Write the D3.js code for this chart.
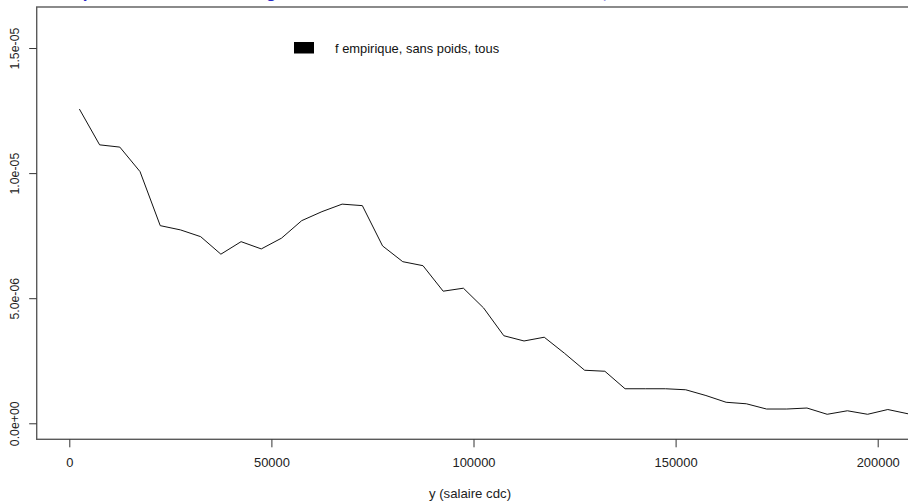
<!DOCTYPE html>
<html>
<head>
<meta charset="utf-8">
<script src="https://cdn.jsdelivr.net/npm/d3@7"></script>
<style>
  body { margin: 0; background: white; overflow: hidden; }
  svg { display: block; font-family: "Liberation Sans", Arial, sans-serif; }
</style>
</head>
<body>
<svg></svg>
<script>

var screen = {width: 908, height: 503};
var box = {left: 36.7, top: 7, right: 940, bottom: 439.3};

// salaire (centre des classes de 5000) et densite empirique
var salaire = [2500, 7500, 12500, 17500, 22500, 27500, 32500, 37500, 42500, 47500,
               52500, 57500, 62500, 67500, 72500, 77500, 82500, 87500, 92500, 97500,
               102500, 107500, 112500, 117500, 122500, 127500, 132500, 137500, 142500, 147500,
               152500, 157500, 162500, 167500, 172500, 177500, 182500, 187500, 192500, 197500,
               202500, 207500];
var densite = [1.256e-5, 1.113e-5, 1.104e-5, 1.006e-5, 7.90e-6, 7.73e-6, 7.46e-6, 6.76e-6, 7.26e-6, 6.97e-6,
               7.40e-6, 8.10e-6, 8.46e-6, 8.76e-6, 8.70e-6, 7.09e-6, 6.46e-6, 6.30e-6, 5.28e-6, 5.40e-6,
               4.61e-6, 3.50e-6, 3.29e-6, 3.44e-6, 2.80e-6, 2.12e-6, 2.08e-6, 1.38e-6, 1.38e-6, 1.38e-6,
               1.34e-6, 1.11e-6, 0.84e-6, 0.78e-6, 0.57e-6, 0.57e-6, 0.61e-6, 0.36e-6, 0.50e-6, 0.36e-6,
               0.55e-6, 0.38e-6];

var xTicks = [0, 50000, 100000, 150000, 200000];
var yTicks = [0, 5e-6, 1e-5, 1.5e-5];
var yTickLabels = ["0.0e+00", "5.0e-06", "1.0e-05", "1.5e-05"];
var legendLabels = ["f empirique, sans poids, tous"];

var setup = function()
{
    var svg = d3.select("body").select("svg")
    .attr("width", screen.width)
    .attr("height", screen.height);

    var xScale = d3.scaleLinear().domain([0, 200000]).range([69.3, 877.7]);
    var yScale = d3.scaleLinear().domain([-0.04 * 1.6e-5, 1.04 * 1.6e-5]).range([box.bottom, box.top]);

    // titre (presque entierement hors cadre)
    svg.append("text")
    .attr("x", 45)
    .attr("y", -2.5)
    .attr("fill", "#2727c8")
    .attr("font-size", "17px")
    .attr("font-weight", "bold")
    .text("Comparaison des densités globales et conditionnelles du salaire cdc, 2010");

    svg.append("clipPath").attr("id", "clip")
    .append("rect")
    .attr("x", box.left).attr("y", box.top)
    .attr("width", box.right - box.left).attr("height", box.bottom - box.top);

    drawAxes(svg, xScale, yScale);
    drawLine(svg, xScale, yScale);
    drawLegend(svg);
}

var drawAxes = function(svg, xScale, yScale)
{
    svg.append("rect")
    .attr("x", box.left).attr("y", box.top)
    .attr("width", box.right - box.left).attr("height", box.bottom - box.top)
    .attr("fill", "none")
    .attr("stroke", "#5a5a5a")
    .attr("stroke-width", 1.4);

    var xAxis = d3.axisBottom(xScale).tickValues(xTicks).tickSize(8).tickPadding(11)
        .tickFormat(d3.format("d"));
    var gx = svg.append("g")
    .attr("transform", "translate(0," + box.bottom + ")")
    .call(xAxis);
    gx.select(".domain").remove();
    gx.selectAll("line").attr("stroke", "#333");
    gx.selectAll("text").attr("font-size", "12.9px").attr("fill", "#222")
    .attr("font-family", "Liberation Sans, Arial, sans-serif");

    var yAxis = d3.axisLeft(yScale).tickValues(yTicks).tickSize(7.5)
        .tickFormat(function(d, i){ return yTickLabels[i]; });
    var gy = svg.append("g")
    .attr("transform", "translate(" + box.left + ",0)")
    .call(yAxis);
    gy.select(".domain").remove();
    gy.selectAll("line").attr("stroke", "#333");
    gy.selectAll("text")
    .attr("font-size", "12.3px").attr("fill", "#222")
    .attr("font-family", "Liberation Sans, Arial, sans-serif")
    .attr("x", null).attr("dy", null)
    .attr("text-anchor", "middle")
    .attr("transform", "translate(-18,0) rotate(-90)");

    svg.append("text")
    .attr("x", 470)
    .attr("y", 498)
    .attr("text-anchor", "middle")
    .attr("font-size", "13.2px")
    .attr("fill", "#222")
    .text("y (salaire cdc)");
}

var drawLine = function(svg, xScale, yScale)
{
    var points = salaire.map(function(s, i){ return [s, densite[i]]; });
    var line = d3.line()
    .x(function(d){ return xScale(d[0]); })
    .y(function(d){ return yScale(d[1]); });

    svg.append("path")
    .datum(points)
    .attr("clip-path", "url(#clip)")
    .attr("d", line)
    .attr("fill", "none")
    .attr("stroke", "#111")
    .attr("stroke-width", 1);
}

var drawLegend = function(svg)
{
    var legend = svg.append("g").attr("transform", "translate(294,42)");
    legend.selectAll("rect")
    .data(legendLabels)
    .enter()
    .append("rect")
    .attr("x", 0).attr("y", function(d, i){ return i * 16; })
    .attr("width", 20).attr("height", 11.5)
    .attr("fill", "black");
    legend.selectAll("text")
    .data(legendLabels)
    .enter()
    .append("text")
    .attr("x", 41).attr("y", function(d, i){ return i * 16 + 10.8; })
    .attr("font-size", "12.9px")
    .attr("fill", "#111")
    .text(function(d){ return d; });
}

setup();
</script>
</body>
</html>
